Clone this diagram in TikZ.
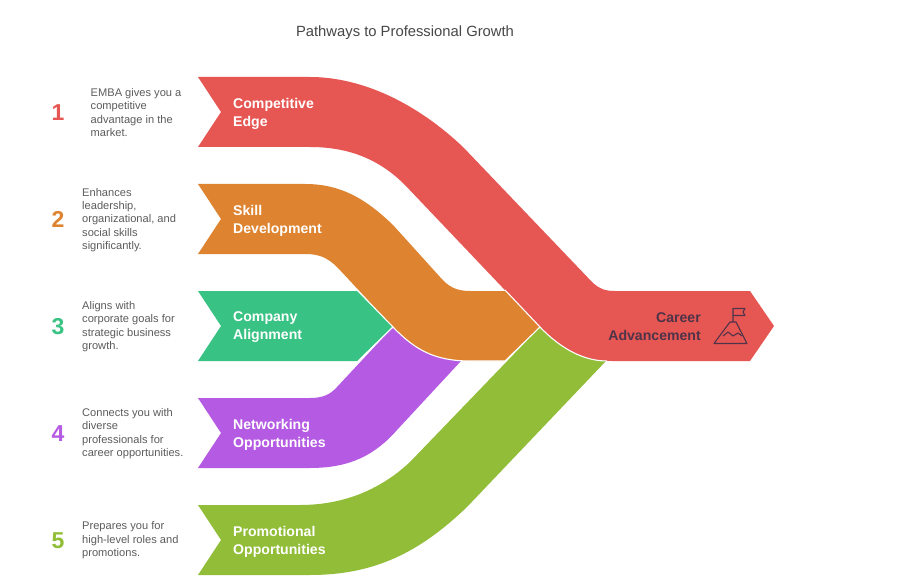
\documentclass[tikz,border=0pt]{standalone}
\usepackage{fontspec}
\setmainfont{Liberation Sans}
\definecolor{cred}{HTML}{E65652}
\definecolor{corange}{HTML}{DE832F}
\definecolor{cgreen}{HTML}{38C283}
\definecolor{cpurple}{HTML}{B55AE3}
\definecolor{clime}{HTML}{91BD38}
\definecolor{cdark}{HTML}{4F3349}
\definecolor{ctext}{HTML}{5C5C5C}
\tikzset{
  x=1pt,y=-1pt,
  gap/.style={draw=white,line width=1.1pt},
  lab/.style={font=\fontsize{14.1}{18}\selectfont\bfseries,text=white,align=left,anchor=west,inner sep=0pt},
  desc/.style={font=\fontsize{11.1}{13.4}\selectfont,text=ctext,align=left,anchor=west,inner sep=0pt},
  num/.style={font=\fontsize{23}{25}\selectfont\bfseries,anchor=center,inner sep=0pt},
  icon/.style={draw=cdark,line width=1.1pt,line join=round}
}
\begin{document}
\begin{tikzpicture}
\useasboundingbox (0,0) rectangle (900,583);
\fill[white] (0,0) rectangle (900,583);
% lime band
\fill[clime] (198,505) -- (300,505) .. controls (340,505) and (378,492) .. (410,462) -- (540,327) -- (606,361) -- (467,507) .. controls (420,552) and (375,575) .. (310,575) -- (198,575) -- (221,540) -- cycle;
% purple band
\fill[cpurple] (198,398) -- (310,398) .. controls (322,398) and (330,395) .. (337,387) -- (393,327) -- (461,361) -- (397,430) .. controls (375,455) and (350,468) .. (310,468) -- (198,468) -- (221,433) -- cycle;
% green band
\fill[cgreen] (198,291) -- (358,291) -- (393,326) -- (358,361) -- (198,361) -- (221,326) -- cycle;
\draw[gap] (358,361) -- (393,327);
% orange band
\fill[corange] (198,184) -- (305,184) .. controls (340,184) and (365,198) .. (393,225) -- (440,277) .. controls (448,286) and (455,291) .. (470,291) -- (520,291) -- (540,327) -- (505,361) -- (470,361) .. controls (435,361) and (415,350) .. (393,327) -- (338,268) .. controls (328,258) and (320,254) .. (305,254) -- (198,254) -- (221,219) -- cycle;
\draw[gap] (357,290) -- (393,327) .. controls (415,350) and (435,361) .. (470,361) -- (505,361) -- (540,327);
% red band
\fill[cred] (198,77) -- (310,77) .. controls (355,77) and (410,97) .. (463,147) -- (593,283) .. controls (600,289) and (605,291) .. (615,291) -- (750,291) -- (774,326) -- (750,361) -- (612,361) .. controls (585,361) and (562,350) .. (540,327) -- (405,185) .. controls (380,160) and (350,147) .. (310,147) -- (198,147) -- (221,112) -- cycle;
\draw[gap] (505,290) -- (540,327) .. controls (562,350) and (585,361) .. (607,361);
% labels
\node[lab] (n1) at (233,113.5) {Competitive\\Edge};
\node[lab] (n2) at (233,220.5) {Skill\\Development};
\node[lab] (n3) at (233,327.5) {Company\\Alignment};
\node[lab] (n4) at (233,434.5) {Networking\\Opportunities};
\node[lab] (n5) at (233,541.5) {Promotional\\Opportunities};
\node[lab,text=cdark,align=right,anchor=east] (n6) at (701,327) {Career\\Advancement};
% numbers
\node[num,text=cred] (a1) at (58,112.5) {1};
\node[num,text=corange] (a2) at (58,219.5) {2};
\node[num,text=cgreen] (a3) at (58,326.5) {3};
\node[num,text=cpurple] (a4) at (58,433.5) {4};
\node[num,text=clime] (a5) at (58,540.5) {5};
% descriptions
\node[desc] (d1) at (90.5,112.5) {EMBA gives you a\\competitive\\advantage in the\\market.};
\node[desc] (d2) at (82,220) {Enhances\\leadership,\\organizational, and\\social skills\\significantly.};
\node[desc] (d3) at (82,326.5) {Aligns with\\corporate goals for\\strategic business\\growth.};
\node[desc] (d4) at (82,433.5) {Connects you with\\diverse\\professionals for\\career opportunities.};
\node[desc] (d5) at (82,540.5) {Prepares you for\\high-level roles and\\promotions.};
% title
\node[font=\fontsize{14.8}{16}\selectfont,text=black!72,inner sep=0pt] (title) at (405,33) {Pathways to Professional Growth};
% icon
\draw[icon] (714,343.5) -- (730,322) -- (736,322) -- (747,343.5) -- cycle;
\draw[icon] (733,322) -- (733,308.5) -- (745,308.5) -- (743,312) -- (745,315.5) -- (733,315.5);
\draw[icon] (723,336) -- (728,332) -- (733,336) -- (738,333) -- (742,336);
\end{tikzpicture}
\end{document}
